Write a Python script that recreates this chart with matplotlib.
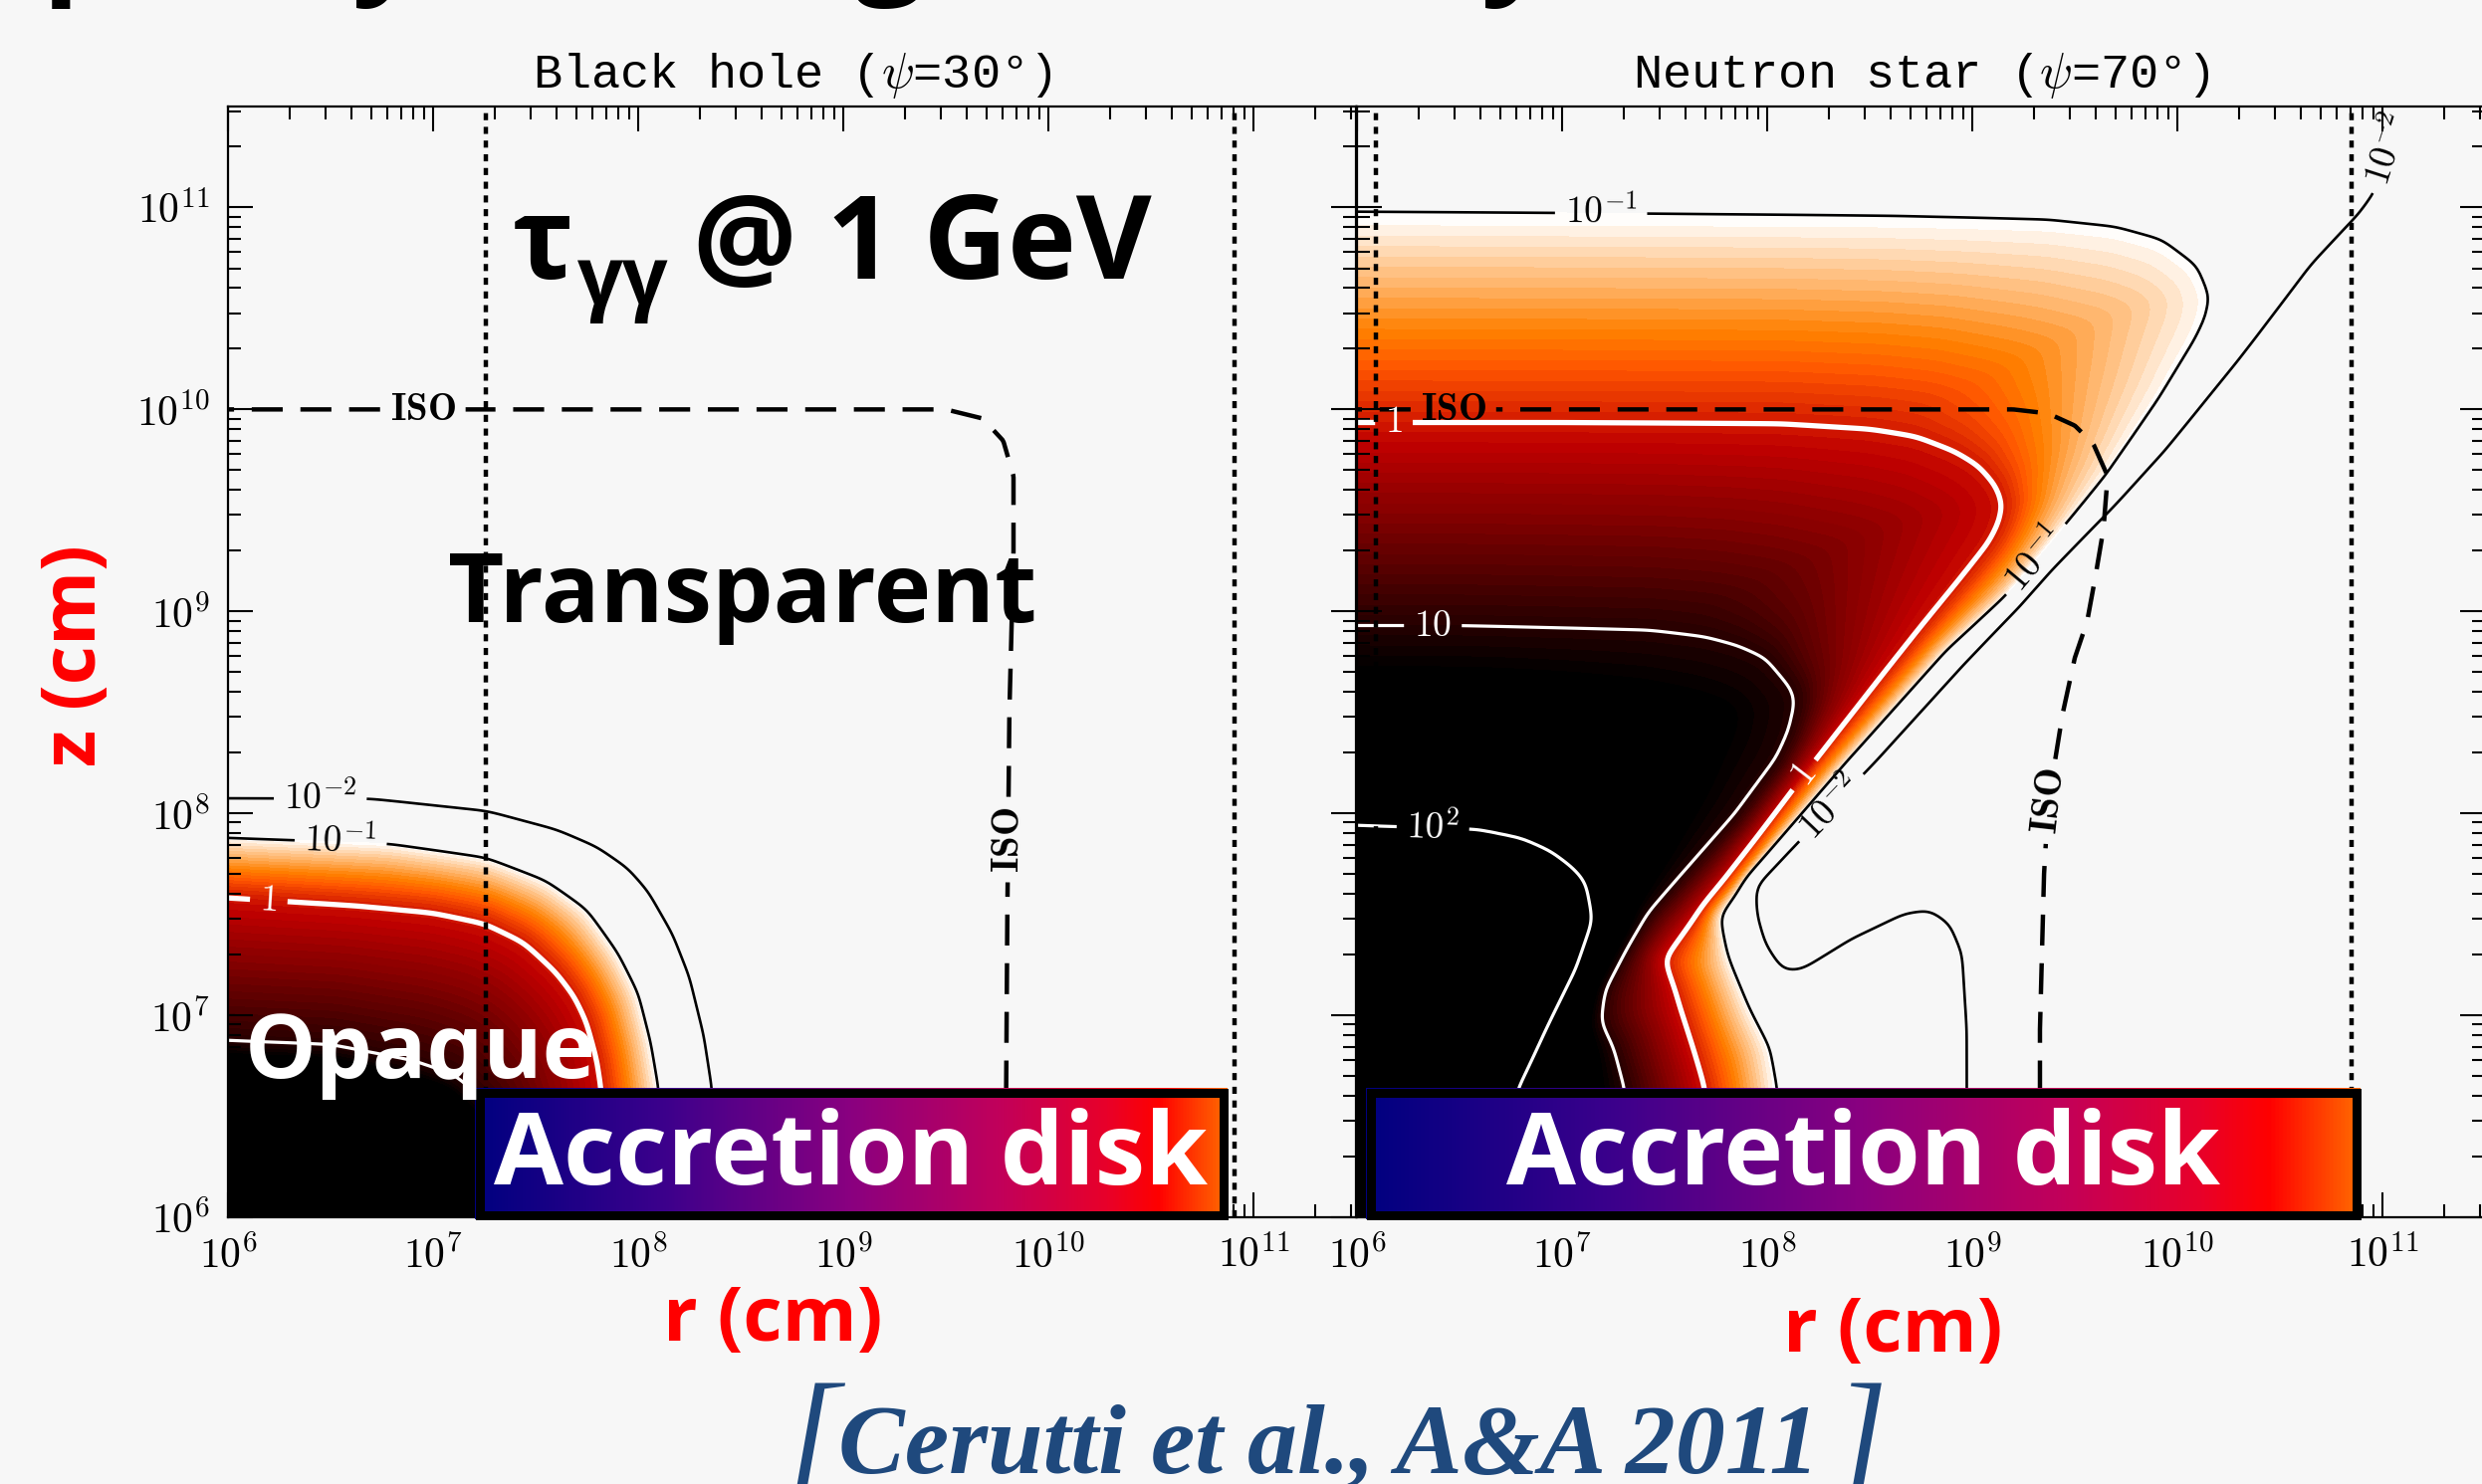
import numpy as np
import matplotlib.pyplot as plt
from matplotlib.path import Path
from matplotlib.patches import Rectangle
from matplotlib.colors import ListedColormap, LinearSegmentedColormap
from matplotlib.ticker import LogLocator, FuncFormatter, NullFormatter

plt.rcParams['mathtext.fontset'] = 'cm'

W, H = 2493, 1491
BG = '#f7f7f7'
RED = '#ff0000'
BLUE = '#1f497d'
SANS = 'Open Sans'

# log10(tau) of each contour line
tau_levels = [-2, -1, 0, 1, 2]

# ---- black hole panel: contour lines in (log10 r, log10 z)
bh_m2_r = [6.0, 6.69, 7.26, 7.60, 7.80, 7.95, 8.05, 8.17, 8.25, 8.32, 8.36, 8.38]
bh_m2_z = [8.07, 8.07, 8.01, 7.92, 7.835, 7.73, 7.615, 7.40, 7.19, 6.90, 6.635, 6.0]
bh_m1_r = [6.0, 6.79, 7.26, 7.55, 7.75, 7.90, 8.0, 8.06, 8.10, 8.12]
bh_m1_z = [7.885, 7.855, 7.785, 7.67, 7.525, 7.31, 7.11, 6.87, 6.635, 6.0]
bh_p0_r = [6.0, 6.62, 7.0, 7.26, 7.45, 7.61, 7.70, 7.76, 7.81, 7.83, 7.85]
bh_p0_z = [7.595, 7.555, 7.52, 7.465, 7.37, 7.22, 7.10, 6.97, 6.78, 6.635, 6.0]
bh_p1_r = [6.0, 6.5, 6.9, 7.1, 7.25, 7.35, 7.40]
bh_p1_z = [6.86, 6.84, 6.76, 6.69, 6.56, 6.35, 6.0]
bh_iso_r = [6.0, 9.5, 9.68, 9.78, 9.83, 9.83, 9.81, 9.80, 9.79]
bh_iso_z = [10.0, 10.0, 9.955, 9.845, 9.67, 9.3, 8.5, 7.5, 6.0]
bh_dotted_r = [1.8e7, 8.1e10]

# ---- neutron star panel
ns_m2_r = [11.12, 10.98, 10.90, 10.66, 10.29, 9.93, 9.67, 9.37, 9.03, 8.51, 7.92,
           7.944, 7.988, 8.075, 8.163, 8.403, 8.665, 8.796, 8.905, 8.971, 8.993, 8.993]
ns_m2_z = [11.5, 11.07, 10.96, 10.71, 10.24, 9.80, 9.52, 9.22, 8.84, 8.26, 7.655,
           7.50, 7.35, 7.22, 7.23, 7.39, 7.52, 7.54, 7.465, 7.31, 6.93, 6.0]
ns_m1_r = [6.0, 7.5, 8.63, 9.37, 9.7, 9.93, 10.11, 10.18, 10.16, 10.11, 9.93, 9.67,
           9.18, 8.88, 8.40, 8.0, 7.76, 7.81, 7.92, 8.01, 8.04, 8.05]
ns_m1_z = [10.96, 10.955, 10.95, 10.94, 10.91, 10.85, 10.72, 10.56, 10.45, 10.34, 10.04, 9.66,
           9.06, 8.80, 8.26, 7.78, 7.50, 7.31, 7.03, 6.84, 6.63, 6.0]
ns_p0_r = [6.0, 7.0, 8.07, 8.5, 8.73, 8.92, 9.04, 9.13, 9.17, 9.15, 9.10, 8.95, 8.70,
           8.18, 7.80, 7.49, 7.55, 7.64, 7.70, 7.72]
ns_p0_z = [9.935, 9.935, 9.93, 9.905, 9.87, 9.80, 9.73, 9.63, 9.53, 9.43, 9.33, 9.14, 8.83,
           8.19, 7.67, 7.28, 7.13, 6.84, 6.63, 6.0]
ns_p1_r = [6.0, 6.5, 7.42, 7.70, 7.86, 8.0, 8.07, 8.14, 8.16, 8.13, 8.07, 7.86, 7.42,
           7.20, 7.18, 7.25, 7.31, 7.35]
ns_p1_z = [8.93, 8.93, 8.91, 8.88, 8.84, 8.78, 8.70, 8.62, 8.55, 8.40, 8.26, 7.98, 7.50,
           7.13, 6.97, 6.84, 6.63, 6.0]
ns_p2_r = [6.0, 6.59, 6.80, 6.94, 7.05, 7.11, 7.15, 7.07, 6.92, 6.77, 6.68]
ns_p2_z = [7.92, 7.90, 7.86, 7.80, 7.72, 7.655, 7.47, 7.22, 6.93, 6.63, 6.0]
ns_iso_r = [6.0, 9.2, 9.37, 9.50, 9.59, 9.66, 9.64, 9.60, 9.56, 9.50, 9.44, 9.37, 9.35, 9.33, 9.33]
ns_iso_z = [10.0, 10.0, 9.98, 9.92, 9.83, 9.67, 9.41, 9.17, 8.95, 8.77, 8.49, 8.05, 7.70, 6.93, 6.0]
ns_dotted_r = [1.23e6, 7.1e10]

# inline label anchors (log10 r, log10 z)
bh_label_xy = [(6.45, 8.07), (6.55, 7.87), (6.2, 7.59)]
bh_iso_xy = [(6.95, 10.0), (9.80, 7.87)]
ns_label_xy = [(11.05, 11.28), (7.19, 10.955), (9.32, 9.25), (6.18, 9.935),
               (8.18, 8.19), (8.30, 8.04), (6.37, 8.93), (6.37, 7.92)]
ns_iso_xy = [(6.47, 10.0), (9.37, 8.06)]

label_fmt = {-2: r'$10^{-2}$', -1: r'$10^{-1}$', 0: r'$1$', 1: r'$10$', 2: r'$10^{2}$'}
line_colors = {-2: 'k', -1: 'k', 0: 'w', 1: 'w', 2: 'w'}
line_widths = {-2: 1.9, -1: 1.9, 0: 3.8, 1: 2.3, 2: 2.3}

gx = np.linspace(5.9, 11.6, 460)
LX, LZ = np.meshgrid(gx, gx)
R, Z = 10 ** LX, 10 ** LZ


def signed_distance(lr, lz):
    p = np.column_stack([lr, lz]).astype(float)
    a = p[0] - 0.4 * (p[1] - p[0]) / np.hypot(*(p[1] - p[0]))
    b = p[-1] + 0.4 * (p[-1] - p[-2]) / np.hypot(*(p[-1] - p[-2]))
    p = np.vstack([a, p, b])
    d = np.full(LX.shape, np.inf)
    for (x0, y0), (x1, y1) in zip(p[:-1], p[1:]):
        dx, dy = x1 - x0, y1 - y0
        t = np.clip(((LX - x0) * dx + (LZ - y0) * dy) / (dx * dx + dy * dy), 0, 1)
        d = np.minimum(d, np.hypot(LX - x0 - t * dx, LZ - y0 - t * dy))
    ring = np.vstack([p, [[5.0, 5.0], [5.0, p[0, 1]]]])
    inside = Path(ring).contains_points(np.column_stack([LX.ravel(), LZ.ravel()]))
    return np.where(inside.reshape(LX.shape), d, -d)


def smooth(a, sigma):
    k = np.arange(-3 * sigma, 3 * sigma + 1)
    w = np.exp(-0.5 * (k / sigma) ** 2)
    w /= w.sum()
    n = len(k) // 2
    f = lambda m: np.convolve(np.pad(m, n, mode='edge'), w, mode='valid')
    a = np.apply_along_axis(f, 0, a)
    return np.apply_along_axis(f, 1, a)


def tau_field(lines):
    S = [signed_distance(r, z) for r, z in lines]
    L = tau_levels[:len(lines)]
    v = L[0] + 4.0 * S[0]
    for k in range(1, len(S)):
        m = (S[k - 1] >= 0) & (S[k] < 0)
        frac = S[k - 1] / np.where(m, S[k - 1] - S[k], 1.0)
        v = np.where(m, L[k - 1] + (L[k] - L[k - 1]) * frac, v)
    v = np.where(S[-1] >= 0, L[-1] + 4.0 * S[-1], v)
    return smooth(v, 3)


heat = plt.get_cmap('gist_heat')
tau_cmap = ListedColormap(heat(np.linspace(1.0, 0.01, 256)))
tau_cmap.set_over('black')
fill_levels = np.linspace(-1.0, 1.2, 45)

disk_cmap = LinearSegmentedColormap.from_list(
    'disk', [(0, '#000080'), (0.25, '#3c008c'), (0.5, '#8a0080'), (0.7, '#c2005a'),
             (0.84, '#e8002a'), (0.91, '#ff0000'), (1.0, '#ff6a00')])


def pow_label(v, pos):
    return r'$10^{%d}$' % int(round(np.log10(v)))


def setup_axes(ax, labelleft):
    ax.set_xscale('log')
    ax.set_yscale('log')
    ax.set_xlim(1e6, 10 ** 11.5)
    ax.set_ylim(1e6, 10 ** 11.5)
    ax.set_facecolor(BG)
    for sp in ax.spines.values():
        sp.set_linewidth(1.6)
    for axis in (ax.xaxis, ax.yaxis):
        axis.set_major_locator(LogLocator(base=10, numticks=20))
        axis.set_minor_locator(LogLocator(base=10, subs=np.arange(2, 10), numticks=20))
        axis.set_major_formatter(FuncFormatter(pow_label))
        axis.set_minor_formatter(NullFormatter())
    ax.tick_params(which='both', direction='in', top=True, right=True, width=1.5)
    ax.tick_params(which='major', length=18, labelsize=30, pad=13)
    ax.tick_params(which='minor', length=9.5)
    if not labelleft:
        ax.tick_params(labelleft=False)


def draw_panel(ax, lines, label_xy, iso_r, iso_z, iso_xy, dotted):
    V = tau_field(lines)
    ax.contourf(R, Z, V, levels=fill_levels, cmap=tau_cmap, extend='max', zorder=1)
    lv = tau_levels[:len(lines)]
    cs = ax.contour(R, Z, V, levels=lv, colors=[line_colors[l] for l in lv],
                    linewidths=[line_widths[l] for l in lv], zorder=2)
    ax.clabel(cs, fmt=label_fmt, manual=[(10 ** x, 10 ** y) for x, y in label_xy],
              inline=True, fontsize=27, inline_spacing=10)
    for r in dotted:
        ax.axvline(r, color='k', lw=3.2, ls=(0, (1.6, 1.5)), zorder=3)
    S_iso = signed_distance(iso_r, iso_z)
    ci = ax.contour(R, Z, S_iso, levels=[0], colors='k', linewidths=3.2,
                    linestyles=[(0, (7, 4))], zorder=3)
    ax.clabel(ci, fmt={0: r'$\mathbf{ISO}$'}, manual=[(10 ** x, 10 ** y) for x, y in iso_xy],
              inline=True, fontsize=28, inline_spacing=10)


def disk_box(x0, x1, y0, y1, bw=9):
    ax = fig.add_axes([x0 / W, 1 - y1 / H, (x1 - x0) / W, (y1 - y0) / H])
    ax.imshow(np.linspace(0, 1, 512)[None, :], aspect='auto', cmap=disk_cmap,
              extent=(0, 1, 0, 1))
    ax.set_xlim(0, 1)
    ax.set_ylim(0, 1)
    ax.axis('off')
    fx, fy = bw / 2 / (x1 - x0), bw / 2 / (y1 - y0)
    ax.add_patch(Rectangle((fx, fy), 1 - 2 * fx, 1 - 2 * fy, transform=ax.transAxes,
                           fill=False, ec='k', lw=bw * 0.72, joinstyle='miter', clip_on=False))
    fig.text((x0 + x1) / 2 / W, 1 - 1190 / H, 'Accretion disk', color='white',
             fontsize=73, fontweight='bold', family=SANS, ha='center', va='baseline')


fig = plt.figure(figsize=(W / 100, H / 100), dpi=100, facecolor=BG)

ax_bh = fig.add_axes([229 / W, 1 - 1223 / H, 1133 / W, 1116 / H])
setup_axes(ax_bh, True)
draw_panel(ax_bh, [(bh_m2_r, bh_m2_z), (bh_m1_r, bh_m1_z), (bh_p0_r, bh_p0_z), (bh_p1_r, bh_p1_z)],
           bh_label_xy, bh_iso_r, bh_iso_z, bh_iso_xy, bh_dotted_r)
ax_bh.set_title(r'Black hole ($\psi$=30°)', family='Liberation Mono', fontsize=35, pad=14)

ax_ns = fig.add_axes([1363 / W, 1 - 1223 / H, 1133 / W, 1116 / H])
setup_axes(ax_ns, False)
draw_panel(ax_ns, [(ns_m2_r, ns_m2_z), (ns_m1_r, ns_m1_z), (ns_p0_r, ns_p0_z),
                   (ns_p1_r, ns_p1_z), (ns_p2_r, ns_p2_z)],
           ns_label_xy, ns_iso_r, ns_iso_z, ns_iso_xy, ns_dotted_r)
ax_ns.set_title(r'Neutron star ($\psi$=70°)', family='Liberation Mono', fontsize=35, pad=14)

disk_box(477, 1233, 1093, 1225)
disk_box(1372, 2371, 1093, 1225)

# slide heading, only the tips of its descenders fall inside the page
fig.text(-57 / W, 1 + 21 / H, 'Opacity of the gamma rays', fontsize=90, fontweight='bold',
         family=SANS, ha='left', va='baseline')

# annotations on the black hole panel
fig.text(515 / W, 1 - 280 / H, 'τ', fontsize=82, fontweight='bold', family=SANS, va='baseline')
fig.text(580 / W, 1 - 306 / H, 'γγ', fontsize=58, fontweight='bold', family=SANS, va='baseline')
fig.text(696 / W, 1 - 280 / H, '@ 1 GeV', fontsize=84, fontweight='bold', family=SANS, va='baseline')
fig.text(450 / W, 1 - 625 / H, 'Transparent', fontsize=70, fontweight='bold', family=SANS,
         va='baseline')
fig.text(246 / W, 1 - 1083 / H, 'Opaque', fontsize=65, fontweight='bold', family=SANS,
         color='white', va='baseline')

# axis titles
fig.text(776 / W, 1 - 1347 / H, 'r (cm)', fontsize=55, fontweight='bold', family=SANS,
         color=RED, ha='center', va='baseline')
fig.text(1901 / W, 1 - 1358 / H, 'r (cm)', fontsize=55, fontweight='bold', family=SANS,
         color=RED, ha='center', va='baseline')
fig.text(76 / W, 1 - 659 / H, 'z (cm)', fontsize=55, fontweight='bold', family=SANS,
         color=RED, ha='center', va='center', rotation=90)

# reference
fig.text(790 / W, 1 - 1484 / H, '[', fontsize=98, family='Liberation Serif', style='italic',
         color=BLUE, va='baseline')
fig.text(842 / W, 1 - 1480 / H, 'Cerutti et al., A&A 2011', fontsize=72, fontweight='bold',
         family='Liberation Serif', style='italic', color=BLUE, va='baseline')
fig.text(1842 / W, 1 - 1484 / H, ']', fontsize=98, family='Liberation Serif', style='italic',
         color=BLUE, va='baseline')

fig.savefig('out.png', dpi=100, facecolor=BG)
